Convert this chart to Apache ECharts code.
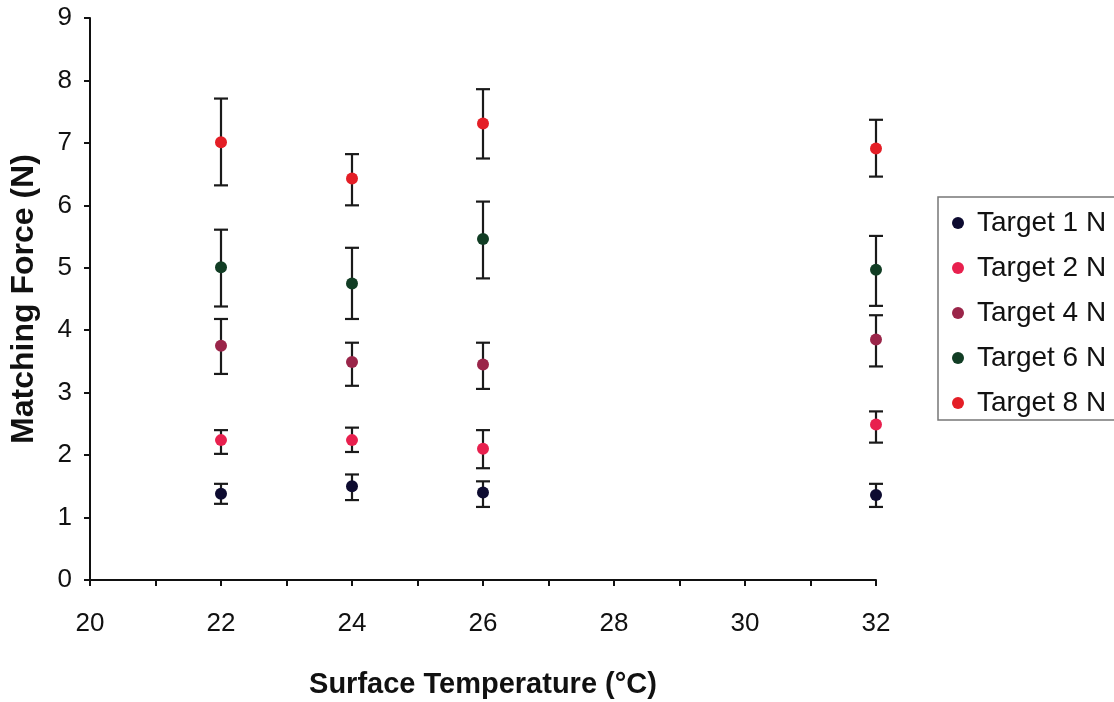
<!DOCTYPE html>
<html><head><meta charset="utf-8">
<script src="https://cdn.jsdelivr.net/npm/echarts@6/dist/echarts.min.js"></script>
<style>html,body{margin:0;padding:0;background:#fff}#c{width:1114px;height:702px}</style>
</head><body><div id="c"></div>
<script>
const temps = [22, 24, 26, 32];
const seriesNames = ['Target 1 N', 'Target 2 N', 'Target 4 N', 'Target 6 N', 'Target 8 N'];
const colors = ['#0d0b30', '#e8204e', '#9a2549', '#113d24', '#e41e26'];
const t1Mean = [1.38, 1.50, 1.40, 1.36];
const t1Low  = [1.22, 1.28, 1.17, 1.17];
const t1High = [1.54, 1.69, 1.58, 1.54];
const t2Mean = [2.24, 2.24, 2.10, 2.49];
const t2Low  = [2.02, 2.05, 1.79, 2.20];
const t2High = [2.40, 2.44, 2.40, 2.70];
const t4Mean = [3.75, 3.49, 3.45, 3.85];
const t4Low  = [3.30, 3.11, 3.06, 3.42];
const t4High = [4.18, 3.80, 3.80, 4.24];
const t6Mean = [5.01, 4.75, 5.46, 4.97];
const t6Low  = [4.38, 4.18, 4.83, 4.39];
const t6High = [5.61, 5.32, 6.06, 5.51];
const t8Mean = [7.01, 6.43, 7.31, 6.91];
const t8Low  = [6.32, 6.00, 6.75, 6.46];
const t8High = [7.71, 6.82, 7.86, 7.37];
const xTickLabels = [20, 22, 24, 26, 28, 30, 32];
const yTickLabels = [0, 1, 2, 3, 4, 5, 6, 7, 8, 9];

const means = [t1Mean, t2Mean, t4Mean, t6Mean, t8Mean];
const lows = [t1Low, t2Low, t4Low, t6Low, t8Low];
const highs = [t1High, t2High, t4High, t6High, t8High];

const FONT = '"Liberation Sans", Arial, sans-serif';
const chart = echarts.init(document.getElementById('c'));

const series = [];
const errData = [];
for (let s = 0; s < 5; s++) for (let i = 0; i < temps.length; i++) errData.push([temps[i], lows[s][i], highs[s][i]]);
series.push({
  type: 'custom', name: 'err', silent: true, z: 1,
  data: errData,
  encode: { x: 0, y: [1, 2] },
  renderItem: function (params, api) {
    const lo = api.coord([api.value(0), api.value(1)]);
    const hi = api.coord([api.value(0), api.value(2)]);
    const hw = 7;
    const st = { stroke: '#1a1a1a', lineWidth: 2.2 };
    return { type: 'group', children: [
      { type: 'line', shape: { x1: lo[0], y1: lo[1], x2: hi[0], y2: hi[1] }, style: st },
      { type: 'line', shape: { x1: lo[0] - hw, y1: lo[1], x2: lo[0] + hw, y2: lo[1] }, style: st },
      { type: 'line', shape: { x1: hi[0] - hw, y1: hi[1], x2: hi[0] + hw, y2: hi[1] }, style: st }
    ]};
  }
});
for (let s = 0; s < 5; s++) {
  series.push({
    type: 'scatter', name: seriesNames[s], z: 3,
    symbol: 'circle', symbolSize: 12,
    itemStyle: { color: colors[s], opacity: 1 },
    data: temps.map((t, i) => [t, means[s][i]])
  });
}

chart.setOption({
  animation: false,
  backgroundColor: '#fff',
  grid: { left: 90, right: 238, top: 18, bottom: 122, containLabel: false, outerBoundsMode: 'none' },
  legend: {
    data: seriesNames,
    orient: 'vertical',
    left: 938, top: 197,
    itemWidth: 12, itemHeight: 12, itemGap: 17,
    icon: 'circle',
    padding: [12, 30, 3, 14],
    borderColor: '#777', borderWidth: 1.5,
    itemStyle: { opacity: 1 },
    textStyle: { fontFamily: FONT, fontSize: 28, color: '#111', padding: [0, 0, 0, 8] }
  },
  xAxis: {
    type: 'value', min: 20, max: 32, interval: 1,
    name: 'Surface Temperature (°C)', nameLocation: 'middle', nameGap: 90,
    nameTextStyle: { fontFamily: FONT, fontSize: 29, fontWeight: 'bold', color: '#111' },
    axisLine: { lineStyle: { color: '#111', width: 2 } },
    axisTick: { length: 6, lineStyle: { color: '#111', width: 2 } },
    axisLabel: { margin: 31, fontFamily: FONT, fontSize: 26, color: '#111',
      formatter: v => (xTickLabels.indexOf(v) >= 0 ? String(v) : '') },
    splitLine: { show: false }
  },
  yAxis: {
    type: 'value', min: 0, max: 9, interval: 1,
    name: 'Matching Force (N)', nameLocation: 'middle', nameGap: 50, nameRotate: 90,
    nameTextStyle: { fontFamily: FONT, fontSize: 32, fontWeight: 'bold', color: '#111' },
    axisLine: { show: true, lineStyle: { color: '#111', width: 2 } },
    axisTick: { show: true, length: 6, lineStyle: { color: '#111', width: 2 } },
    axisLabel: { margin: 18, fontFamily: FONT, fontSize: 26, color: '#111',
      formatter: v => (yTickLabels.indexOf(v) >= 0 ? String(v) : '') },
    splitLine: { show: false }
  },
  series: series
});
</script></body></html>
